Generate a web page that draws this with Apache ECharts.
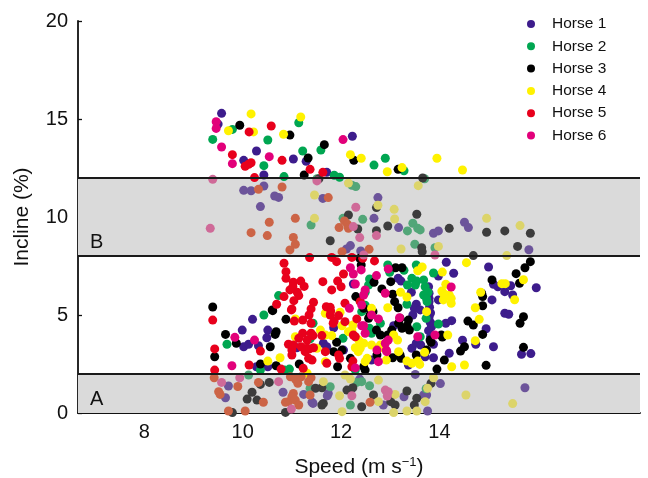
<!DOCTYPE html>
<html>
<head>
<meta charset="utf-8">
<script src="https://cdn.jsdelivr.net/npm/echarts@6/dist/echarts.min.js"></script>
<style>
  html, body { margin: 0; padding: 0; background: #fff; }
  #chart { width: 648px; height: 478px; }
</style>
</head>
<body>
<div id="chart"></div>
<script>
// Speed (m/s) vs incline (%) for six horses; each point is [speed, incline].
const horseNames = ['Horse 1', 'Horse 2', 'Horse 3', 'Horse 4', 'Horse 5', 'Horse 6'];
const horseColors = ['#3d1c8c', '#00a651', '#000000', '#fff200', '#e8001c', '#e2007a'];
const horseColorsInBand = ['#6c549a', '#52a678', '#3c3c3c', '#dcd46a', '#cc6446', '#cf6a98'];

const horse1 = [
  [9.57,15.29],[9.50,14.74],[10.28,13.37],[10.02,12.89],[11.03,12.96],[11.29,12.84],[10.43,12.14],[10.02,11.36],[10.17,11.34],[10.43,11.58],[10.65,11.07],[10.73,11.00],[10.36,10.53],
  [12.23,14.12],[11.71,12.28],[11.63,10.95],[12.75,10.99],
  [12.67,9.93],[13.17,9.46],[12.19,8.54],[12.11,8.37],[12.40,8.27],[12.25,6.58],[13.16,6.87],[13.22,6.73],[13.43,6.16],[13.53,5.55],[13.51,5.34],[13.78,6.44],[12.51,5.37],
  [14.51,9.73],[14.59,9.46],[13.88,9.17],[13.98,9.29],[15.82,8.33],[14.14,7.69],[15.00,7.45],[13.98,6.99],[14.29,7.13],[15.10,6.57],[15.19,6.44],[15.45,6.49],[15.97,6.39],[15.33,6.19],[15.49,6.02],[15.07,5.77],[13.79,6.11],[13.79,5.85],[13.79,5.68],[13.98,5.77],
  [13.81,4.64],[13.83,4.56],[14.13,4.58],[14.25,4.71],[13.88,3.51],[13.71,2.87],[13.88,2.82],[14.20,3.05],[14.47,3.71],[14.74,3.51],[14.95,4.30],[15.33,5.09],[15.41,5.04],[15.10,3.38],[15.67,3.00],[15.86,3.03],[14.02,1.50],[13.74,0.92],[15.74,1.29],[13.76,0.10],
  [9.99,4.23],[10.20,4.78],[10.51,4.23],[10.49,3.84],[11.10,3.33],[10.02,3.38],[10.12,3.51],[10.32,3.43],[10.28,2.36],[10.51,2.36],[9.71,1.38],[9.65,0.78],[10.82,1.06],[11.24,0.95],[11.41,0.55],
  [11.85,4.35],[11.64,3.56],[11.71,3.38],[12.05,3.21],[12.62,2.70],[13.37,2.45],[13.44,3.30],[13.53,3.56],[13.62,3.47],[13.49,5.34],[13.61,5.26],[13.46,5.00],[13.07,4.45],[11.43,0.49],[11.74,1.00],[11.72,0.88],[12.38,1.73],[13.01,0.88],[12.86,0.41],[13.28,0.83],[13.51,1.97],[13.68,0.92],
  [13.80,5.40],[13.82,5.10],[13.79,4.90],[13.84,4.40],[13.78,4.20],[13.82,3.90]
];

const horse2 = [
  [9.79,14.47],[11.14,14.81],[9.39,13.96],[10.51,13.93],[11.22,13.37],[10.43,12.62],[10.84,12.06],
  [11.59,13.42],[12.67,12.65],[12.90,13.00],[13.28,12.36],[11.51,11.95],[11.86,12.13],[11.97,12.03],[13.70,11.95],[12.22,11.62],[12.30,11.55],
  [11.39,9.59],[10.73,5.99],
  [12.04,9.93],[12.44,9.88],[13.35,9.29],[13.46,9.68],[13.56,9.42],[13.61,9.34],[13.50,8.61],[12.58,6.84],[12.56,6.53],[12.49,6.16],[12.95,7.55],[12.99,7.18],[13.28,7.28],[13.53,7.55],[13.60,7.41],[13.44,6.87],[13.54,6.73],[13.51,6.53],[13.35,6.53],[13.68,6.79],[13.71,6.44],[13.68,6.02],[13.75,5.68],[13.34,5.55],[13.77,6.16],[12.49,5.50],
  [13.91,8.43],[13.88,7.14],[13.74,5.82],[13.98,4.54],
  [10.43,5.00],[9.68,3.51],[10.36,2.19],[10.95,2.24],[10.85,2.19],[10.12,1.94],[11.37,1.26],
  [12.42,5.17],[11.43,4.58],[12.04,3.81],[12.29,2.19],[13.61,3.89],[13.73,4.83],[13.54,4.40],[12.80,4.58],[12.62,4.07],[12.58,4.32],[11.78,1.34],[12.32,1.56],[12.42,1.60],[12.19,0.41],[12.58,1.39],[13.73,1.24],
  [11.37,3.78]
];

const horse3 = [
  [9.94,14.68],[10.96,14.18],[11.33,13.01],[11.25,12.14],
  [11.66,13.69],[12.26,12.89],[13.16,12.43],[11.55,11.95],[13.66,11.99],[12.72,10.48],
  [9.39,5.41],[10.60,5.26],
  [12.15,10.10],[12.34,9.39],[13.54,10.14],[12.95,9.54],[12.72,9.30],[11.78,8.79],[13.64,8.43],[13.65,8.23],[12.38,7.89],[12.41,7.55],[12.67,6.67],[12.30,5.94],[12.83,6.33],[13.01,6.70],[13.05,6.06],[13.09,5.68],[13.11,7.41],[13.24,7.41],[13.16,5.37],[12.38,5.77],
  [14.20,9.42],[14.96,9.22],[15.33,9.29],[15.85,9.17],[15.59,8.50],[14.69,8.03],[15.85,7.72],[15.74,7.41],[15.56,7.11],[15.07,6.79],[15.63,6.62],[14.86,6.11],[14.88,5.94],[14.88,5.47],
  [14.04,3.98],[14.06,3.88],[13.81,3.72],[13.83,3.61],[13.74,3.21],[14.10,2.70],[13.95,2.24],[14.51,3.38],[14.43,3.16],[14.88,4.01],[14.69,4.49],[14.58,4.69],[15.71,4.91],[15.64,4.58],[15.71,3.35],[14.95,2.43],[13.83,1.52],
  [9.65,4.01],[10.61,5.22],[10.88,4.78],[10.68,4.15],[10.66,4.01],[10.56,3.38],[9.87,3.56],[9.43,2.87],[10.36,2.50],[10.68,2.41],[11.15,2.50],[10.36,1.46],[10.54,1.56],[10.19,1.06],[10.09,0.71],[10.29,0.66],[9.79,0.02],[10.87,0.03],
  [11.91,3.61],[11.85,3.13],[12.02,3.21],[11.93,2.36],[12.19,2.79],[12.46,2.36],[12.49,2.19],[12.73,2.96],[12.76,3.30],[13.05,2.82],[13.20,2.96],[13.22,2.79],[13.53,2.96],[13.37,4.74],[13.20,4.83],[13.17,4.58],[13.24,4.32],[13.39,4.23],[13.34,4.45],[12.95,3.98],[13.03,4.23],[12.72,4.23],[12.80,3.98],[12.56,4.83],[12.59,5.00],[12.65,5.17],
  [11.48,1.26],[11.61,1.29],[11.64,0.49],[11.61,0.41],[12.12,1.17],[12.24,1.29],[12.42,0.32],[12.66,0.92],[13.01,0.58],[13.34,1.12],[13.10,0.41],[13.54,0.75],[13.49,0.41],
  [12.46,5.34]
];

const horse4 = [
  [10.17,15.26],[9.71,14.40],[10.22,14.34],[11.18,15.10],[10.83,14.22],[11.46,11.12],
  [12.19,13.18],[12.41,13.00],[12.94,12.31],[13.24,12.52],[12.15,11.73],[12.75,10.60],[13.57,11.60],[13.08,10.39],
  [13.95,13.00],[14.47,12.40],[11.46,9.93],
  [13.09,9.90],[13.22,8.37],[13.56,7.26],[13.65,7.45],[13.21,6.16],[13.34,5.92],[12.95,5.37],
  [14.96,9.93],[15.64,9.56],[13.98,8.50],[15.37,8.03],[14.55,7.67],[14.06,7.19],[15.71,6.80],[15.27,6.60],[15.34,6.60],[15.53,5.78],[14.84,6.16],[14.73,5.37],[14.13,6.57],[14.05,6.22],[14.08,6.11],[14.20,6.02],[14.24,5.85],[14.24,5.60],[14.08,5.77],
  [13.74,5.17],[14.17,3.98],[13.70,3.10],[14.25,2.36],[14.73,3.69],[14.81,4.78],[14.51,2.45],[13.88,1.80],[13.76,1.26],[14.54,0.92],[15.49,0.48],
  [11.07,3.89],[10.51,2.65],[10.76,2.82],[11.07,4.80],[11.31,2.03],
  [11.68,5.09],[11.98,5.14],[11.58,4.23],[11.68,3.98],[11.81,3.95],[12.02,4.45],[12.24,4.49],[12.22,4.23],[11.51,3.30],[11.68,2.62],[12.35,3.13],[12.39,3.30],[12.29,3.33],[12.49,2.62],[12.53,2.79],[12.62,3.47],[12.85,3.33],[12.80,3.47],[12.92,2.70],[13.17,3.13],[13.34,2.65],[13.44,2.54],[13.56,2.65],[13.60,2.48],[13.07,3.98],[13.15,3.72],[12.46,3.56],[12.36,3.72],[12.62,5.34],[12.15,4.15],
  [11.64,1.60],[11.97,0.88],[12.08,1.94],[12.19,1.73],[12.76,1.68],[12.76,0.58],[13.10,0.95],[13.34,0.10],[13.54,0.10],[13.07,0.02],[13.71,0.58],[12.02,0.07]
];

const horse5 = [
  [10.13,14.34],[10.58,14.64],[9.79,13.18],[10.17,12.77],[10.12,12.69],[10.05,12.59],[10.80,12.89],[11.37,12.43],[10.24,12.01],[10.32,11.41],[10.80,11.53],
  [11.63,12.28],[11.74,10.99],
  [10.54,9.73],[11.07,9.93],[10.17,9.20],[10.50,9.05],[11.03,8.96],[11.07,8.61],[10.96,8.32],[11.36,7.93],[10.84,7.64],[10.88,7.21],[10.88,6.87],[11.03,6.67],[11.18,6.73],[11.25,6.46],[11.02,6.45],[10.96,6.28],[11.11,6.16],[11.14,5.99],[10.84,5.94],[11.04,5.73],[10.69,5.55],[11.44,5.65],[11.00,5.31],
  [12.07,9.80],[12.13,9.63],[11.96,9.46],[12.15,9.42],[12.57,8.35],[12.02,8.23],[11.81,7.94],[11.91,7.72],[12.22,7.94],[12.44,7.89],[12.68,7.76],[12.05,7.09],[11.63,6.70],[11.93,6.73],[12.00,6.44],[11.81,6.28],[11.70,5.42],[11.78,5.39],[12.39,5.68],[12.08,5.60],
  [9.39,4.74],[10.99,5.26],[11.05,4.69],[11.22,4.74],[11.39,4.58],[11.35,5.00],[11.22,4.07],[11.14,3.81],[11.31,3.72],[10.93,3.51],[11.03,3.47],[11.00,3.21],[11.00,2.96],[11.19,3.38],[11.31,3.30],[11.27,3.13],[11.36,3.27],[11.41,2.70],[10.36,3.16],[9.43,3.27],[9.43,2.19],[10.13,2.45],[10.78,2.24],[11.23,2.28],[11.34,2.79],
  [9.42,1.80],[9.90,1.35],[9.51,1.09],[9.54,0.95],[10.32,1.56],[10.97,1.85],[11.07,1.73],[11.12,1.52],[11.19,1.85],[11.34,1.60],[10.42,0.55],[11.03,1.00],[11.00,0.83],[10.93,0.58],[10.87,0.55],[11.07,0.66],[11.14,0.41],[9.71,0.10],[10.05,0.10],
  [11.39,5.31],[11.79,5.20],[11.78,5.00],[11.95,4.97],[12.32,4.80],[12.08,4.66],[11.86,4.69],[11.84,4.58],[11.39,4.07],[11.43,3.95],[11.61,3.95],[11.95,2.96],[11.97,2.79],[11.68,3.13],[11.44,3.33],[11.71,2.54],[12.24,2.65],[12.22,2.36],[12.25,3.98],[12.29,3.89],[11.39,1.80],[12.59,0.55],[11.37,0.92]
];

const horse6 = [
  [9.46,14.86],[9.46,14.52],[9.57,13.57],[10.54,13.08],[9.79,12.72],[9.39,11.92],
  [12.04,13.95],[11.51,11.84],[12.30,10.50],[9.34,9.42],
  [12.25,9.51],[12.72,9.05],[12.38,8.95],[12.46,8.06],[12.19,7.41],[12.41,7.30],[12.25,7.09],[12.29,6.58],[12.72,7.01],[12.49,6.28],[12.46,6.02],[12.90,6.11],[12.96,7.35],[12.42,5.51],
  [13.91,8.06],[14.24,6.43],[13.91,3.98],
  [9.84,3.86],[10.24,3.72],[9.78,2.41],[9.57,1.56],[9.94,1.80],[10.73,1.60],[10.99,0.20],
  [12.17,5.34],[12.42,4.45],[12.29,2.30],[12.76,2.62],[12.73,3.21],[12.92,3.21],[12.93,3.13],[13.56,3.89],[13.19,4.86],[12.90,3.56],[12.96,3.72],[12.76,4.80],[12.49,4.07],[12.46,4.45],[12.22,0.88],[12.90,1.17],[12.96,1.09],[12.94,0.87],
  [12.62,5.00]
];

const horseData = [horse1, horse2, horse3, horse4, horse5, horse6];

// Incline zones shaded on the plot: A = 0-2 %, B = 8-12 %
const zoneNames = ['A', 'B'];
const zoneRanges = [[0, 2], [8, 12]];
const zoneEdges = [2, 8, 12];

// Axis ticks
const xTickValues = [8, 10, 12, 14, 16];
const xLabelValues = [8, 10, 12, 14];

const FONT = '"Liberation Sans", Arial, Helvetica, sans-serif';

function inZone(y) {
  return zoneRanges.some(r => y >= r[0] && y <= r[1]);
}

const chart = echarts.init(document.getElementById('chart'), null, { renderer: 'canvas' });

const scatterSeries = horseNames.map((name, i) => ({
  name: name,
  type: 'scatter',
  data: horseData[i],
  symbol: 'circle',
  symbolSize: 9,
  z: 3,
  itemStyle: {
    color: p => inZone(p.value[1]) ? horseColorsInBand[i] : horseColors[i],
    opacity: 1
  },
  emphasis: { disabled: true }
}));

const zoneSeries = {
  name: 'zones',
  type: 'scatter',
  data: [],
  z: 1,
  silent: true,
  markArea: {
    silent: true,
    itemStyle: { color: '#dadada' },
    label: {
      show: true,
      position: 'insideBottomLeft',
      distance: 4,
      offset: [8, 0],
      fontFamily: FONT,
      fontSize: 20,
      color: '#111'
    },
    data: zoneRanges.map((r, i) => [
      { name: zoneNames[i], yAxis: r[0] },
      { yAxis: r[1] }
    ])
  },
  markLine: {
    silent: true,
    symbol: ['none', 'none'],
    label: { show: false },
    lineStyle: { color: '#1a1a1a', width: 1.8, type: 'solid' },
    data: zoneEdges.map(v => ({ yAxis: v }))
  }
};

const option = {
  animation: false,
  backgroundColor: '#ffffff',
  grid: { left: 78, right: 8, top: 21, bottom: 65, containLabel: false, outerBoundsMode: 'none' },
  legend: {
    data: horseNames.map((n, i) => ({ name: n, itemStyle: { color: horseColors[i] } })),
    orient: 'vertical',
    left: 522,
    top: 11,
    icon: 'circle',
    itemWidth: 8,
    itemHeight: 8,
    itemGap: 6.3,
    textStyle: { fontFamily: FONT, fontSize: 15.5, color: '#111', padding: [0, 0, 0, 12] },
    selectedMode: false
  },
  xAxis: {
    type: 'value',
    min: 6.65,
    max: 18.08,
    name: 'Speed (m s{sup|\u22121})',
    nameLocation: 'middle',
    nameGap: 43,
    nameTextStyle: {
      fontFamily: FONT, fontSize: 21, color: '#111',
      rich: { sup: { fontFamily: FONT, fontSize: 13, verticalAlign: 'top', padding: [0, 0, 10, 0], color: '#111' } }
    },
    axisLine: { show: true, onZero: false, lineStyle: { color: '#111', width: 1.8 } },
    axisTick: { show: true, inside: true, length: 5, customValues: xTickValues, lineStyle: { color: '#111', width: 1.3 } },
    axisLabel: { customValues: xLabelValues, fontFamily: FONT, fontSize: 20, color: '#111', margin: 9 },
    splitLine: { show: false }
  },
  yAxis: {
    type: 'value',
    min: 0,
    max: 20,
    interval: 5,
    name: 'Incline (%)',
    nameLocation: 'middle',
    nameGap: 45,
    nameTextStyle: { fontFamily: FONT, fontSize: 21, color: '#111' },
    axisLine: { show: true, lineStyle: { color: '#111', width: 1.8 } },
    axisTick: { show: true, inside: true, length: 4, lineStyle: { color: '#111', width: 1.3 } },
    axisLabel: { fontFamily: FONT, fontSize: 20, color: '#111', margin: 10 },
    splitLine: { show: false }
  },
  series: [zoneSeries].concat(scatterSeries)
};

chart.setOption(option);
</script>
</body>
</html>
